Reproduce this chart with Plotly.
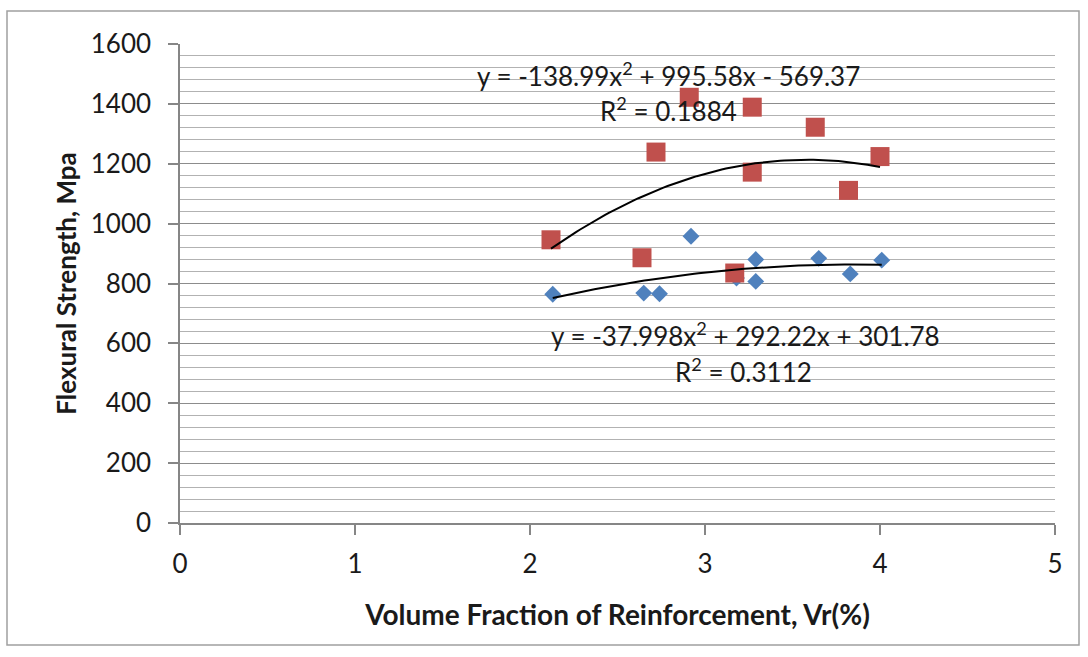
import numpy as np
import plotly.graph_objects as go

# ---- data ----
blue_x = [2.13, 2.65, 2.74, 2.92, 3.18, 3.29, 3.29, 3.65, 3.83, 4.01]
blue_y = [764, 768, 766, 958, 818, 880, 807, 884, 832, 878]
red_x = [2.12, 2.64, 2.72, 2.91, 3.17, 3.27, 3.27, 3.63, 3.82, 4.00]
red_y = [946, 886, 1239, 1422, 835, 1389, 1172, 1322, 1111, 1224]

# polynomial trendline coefficients shown on the chart (a, b, c for a*x^2 + b*x + c)
blue_coef = [-37.998, 292.22, 301.78]
red_coef = [-138.99, 995.58, -569.37]
blue_r2 = "0.3112"
red_r2 = "0.1884"

x_ticks = [0, 1, 2, 3, 4, 5]
y_ticks = [0, 200, 400, 600, 800, 1000, 1200, 1400, 1600]

x_title = "Volume Fraction of Reinforcement, Vr(%)"
y_title = "Flexural Strength, Mpa"

FONT = "Lato"
TXT = "#1a1a1a"

W, H = 1088, 657
L, R, T, B = 180, 33, 44, 134
PW, PH = W - L - R, H - T - B


def px_x(p):
    return (p - L) / PW


def px_y(p):
    return (H - B - p) / PH


def trend(xs, coef):
    xx = np.linspace(min(xs), max(xs), 80)
    return xx, np.polyval(coef, xx)


fig = go.Figure()

bx, by = trend(blue_x, blue_coef)
rx, ry = trend(red_x, red_coef)

fig.add_trace(go.Scatter(x=blue_x, y=blue_y, mode="markers",
                         marker=dict(symbol="diamond", size=13, color="#4F81BD"),
                         showlegend=False))
fig.add_trace(go.Scatter(x=red_x, y=red_y, mode="markers",
                         marker=dict(symbol="square", size=19, color="#C0504D"),
                         showlegend=False))
fig.add_trace(go.Scatter(x=bx, y=by, mode="lines",
                         line=dict(color="black", width=2), showlegend=False))
fig.add_trace(go.Scatter(x=rx, y=ry, mode="lines",
                         line=dict(color="black", width=2), showlegend=False))


def eq_text(coef):
    a, b, c = coef
    sb = "+" if b >= 0 else "-"
    sc = "+" if c >= 0 else "-"
    return f"y = {a:g}x<sup>2</sup> {sb} {abs(b):g}x {sc} {abs(c):g}"


ann_font = dict(family=FONT, size=26, color=TXT)
fig.add_annotation(x=2.794, y=1498, text=eq_text(red_coef), showarrow=False, font=ann_font)
fig.add_annotation(x=2.794, y=1381, text=f"R<sup>2</sup> = {red_r2}", showarrow=False, font=ann_font)
fig.add_annotation(x=3.23, y=629, text=eq_text(blue_coef), showarrow=False, font=ann_font)
fig.add_annotation(x=3.22, y=509, text=f"R<sup>2</sup> = {blue_r2}", showarrow=False, font=ann_font)

# outer chart border
fig.add_shape(type="rect", xref="paper", yref="paper",
              x0=px_x(7), x1=px_x(1079), y0=px_y(645), y1=px_y(11),
              line=dict(color="#A0A0A0", width=1.5), fillcolor="rgba(0,0,0,0)")

fig.update_layout(
    width=W, height=H,
    margin=dict(l=L, r=R, t=T, b=B, pad=0),
    paper_bgcolor="white", plot_bgcolor="white",
    font=dict(family=FONT, size=26, color=TXT),
)
fig.update_xaxes(
    range=[0, 5], tickvals=x_ticks, ticktext=[str(v) for v in x_ticks],
    showgrid=False, zeroline=False,
    showline=True, linecolor="#868686", linewidth=1.5,
    ticks="outside", ticklen=10, tickcolor="#868686", tickwidth=1.5,
    ticklabelstandoff=7,
    tickfont=dict(family=FONT, size=26, color=TXT),
    title=dict(text=x_title, font=dict(family=FONT, size=28, color=TXT, weight="bold"), standoff=27),
)
fig.update_yaxes(
    range=[0, 1600], tickvals=y_ticks, ticktext=[str(v) for v in y_ticks],
    showgrid=True, gridcolor="#8C8C8C", gridwidth=1.3, zeroline=False,
    showline=True, linecolor="#868686", linewidth=1.5,
    ticks="outside", ticklen=10, tickcolor="#868686", tickwidth=1.5,
    ticklabelstandoff=12,
    tickfont=dict(family=FONT, size=26, color=TXT),
    minor=dict(dtick=40, showgrid=True, gridcolor="#B2B2B2", gridwidth=1, ticks=""),
    title=dict(text=y_title, font=dict(family=FONT, size=26, color=TXT, weight="bold"), standoff=7),
)

fig.write_html("out.html", post_script="document.body.style.margin='0';",
               config={"displayModeBar": False})
